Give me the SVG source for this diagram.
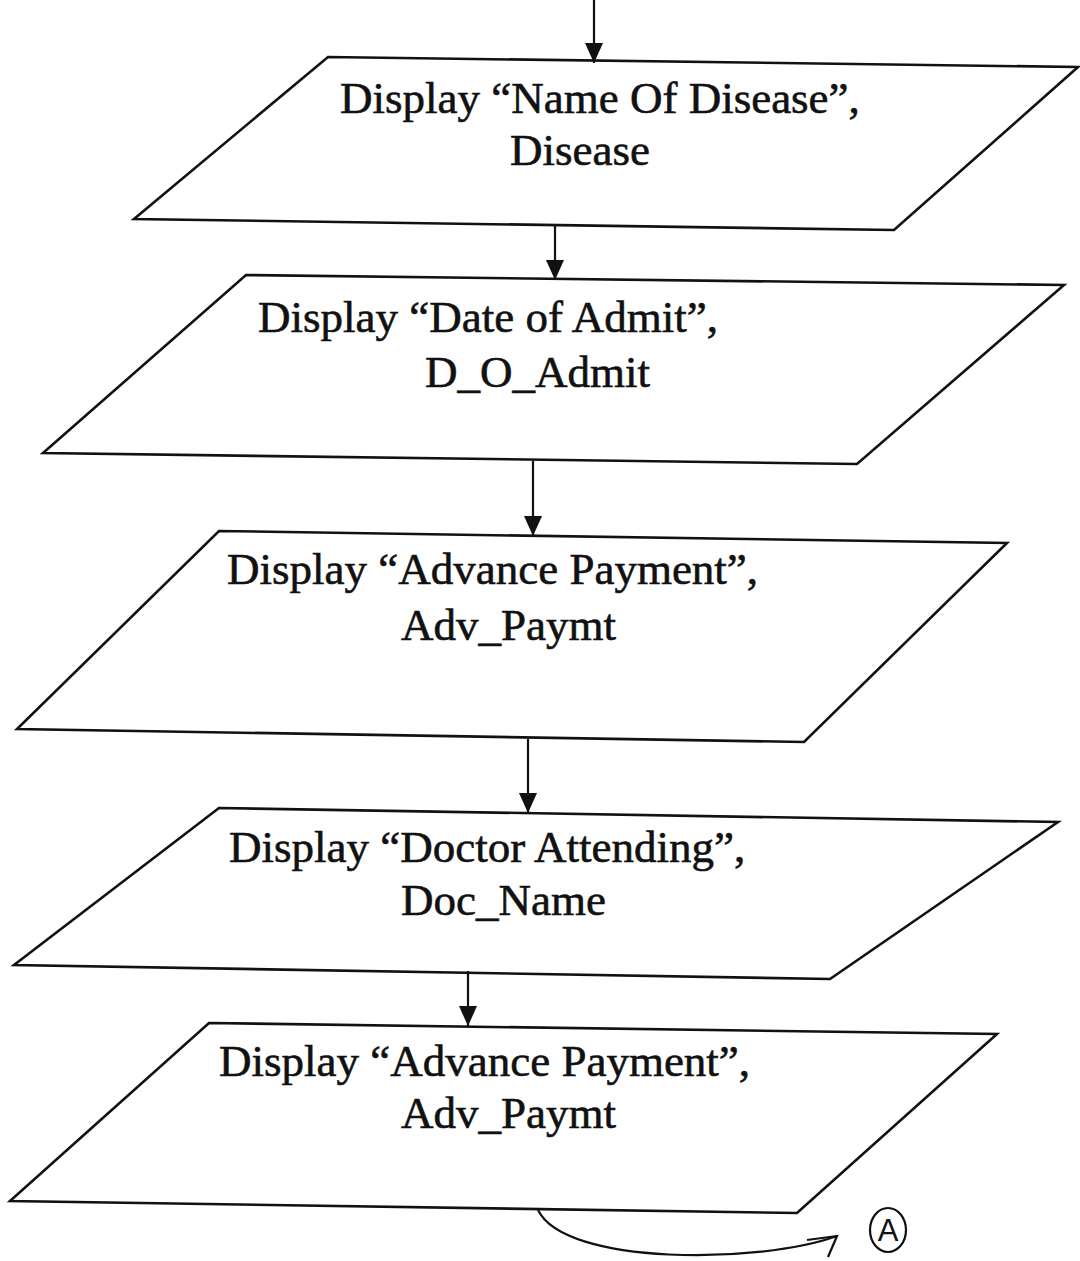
<svg xmlns="http://www.w3.org/2000/svg" width="1080" height="1261" viewBox="0 0 1080 1261">
  <style>
    .shape { fill: #ffffff; stroke: #111111; stroke-width: 2.6; stroke-linejoin: miter; }
    .lbl { font-family: "Liberation Serif", "Times New Roman", serif; font-size: 45px; fill: #111111; stroke: #111111; stroke-width: 0.6; }
    .conn { stroke: #111111; stroke-width: 2.2; fill: none; }
    .hand { font-family: "Liberation Sans", Arial, sans-serif; font-size: 31px; fill: #111111; }
  </style>
  <defs>
    <marker id="arrow" markerUnits="userSpaceOnUse" markerWidth="20" markerHeight="18" viewBox="0 0 20 18" refX="20" refY="9" orient="auto">
      <path d="M0,0 L20,9 L0,18 Z" fill="#111111"/>
    </marker>
  </defs>
  <rect width="1080" height="1261" fill="#ffffff"/>

  <g id="node1">
    <polygon class="shape" points="328,57 1078,67 894,230 134,219"/>
    <text class="lbl" x="340" y="113">Display “Name Of Disease”,</text>
    <text class="lbl" x="510" y="165">Disease</text>
  </g>
  <g id="node2">
    <polygon class="shape" points="246,275 1064,285 857,464 43,453"/>
    <text class="lbl" x="258" y="332">Display “Date of Admit”,</text>
    <text class="lbl" x="425" y="387">D_O_Admit</text>
  </g>
  <g id="node3">
    <polygon class="shape" points="219,531 1007,543 804,742 17,729"/>
    <text class="lbl" x="227" y="584">Display “Advance Payment”,</text>
    <text class="lbl" x="401" y="640">Adv_Paymt</text>
  </g>
  <g id="node4">
    <polygon class="shape" points="219,808 1058,822 830,979 14,965"/>
    <text class="lbl" x="229" y="862">Display “Doctor Attending”,</text>
    <text class="lbl" x="401" y="915">Doc_Name</text>
  </g>
  <g id="node5">
    <polygon class="shape" points="209,1023 997,1034 797,1213 10,1201"/>
    <text class="lbl" x="219" y="1076">Display “Advance Payment”,</text>
    <text class="lbl" x="401" y="1128">Adv_Paymt</text>
  </g>
  <g id="connectorA">
    <ellipse cx="888" cy="1230" rx="18" ry="22" fill="none" stroke="#111111" stroke-width="2.2"/>
    <text class="hand" x="888" y="1241" text-anchor="middle">A</text>
  </g>

  <g id="connectors">
    <line class="conn" x1="594" y1="0" x2="594" y2="63" marker-end="url(#arrow)"/>
    <line class="conn" x1="555" y1="226" x2="555" y2="280" marker-end="url(#arrow)"/>
    <line class="conn" x1="533" y1="461" x2="533" y2="536" marker-end="url(#arrow)"/>
    <line class="conn" x1="528" y1="739" x2="528" y2="813" marker-end="url(#arrow)"/>
    <line class="conn" x1="468" y1="971" x2="468" y2="1026" marker-end="url(#arrow)"/>
    <path class="conn" d="M538,1210 C565,1266 760,1264 837,1236"/>
    <polyline class="conn" points="807,1240 837,1236 828,1257"/>
  </g>
</svg>
